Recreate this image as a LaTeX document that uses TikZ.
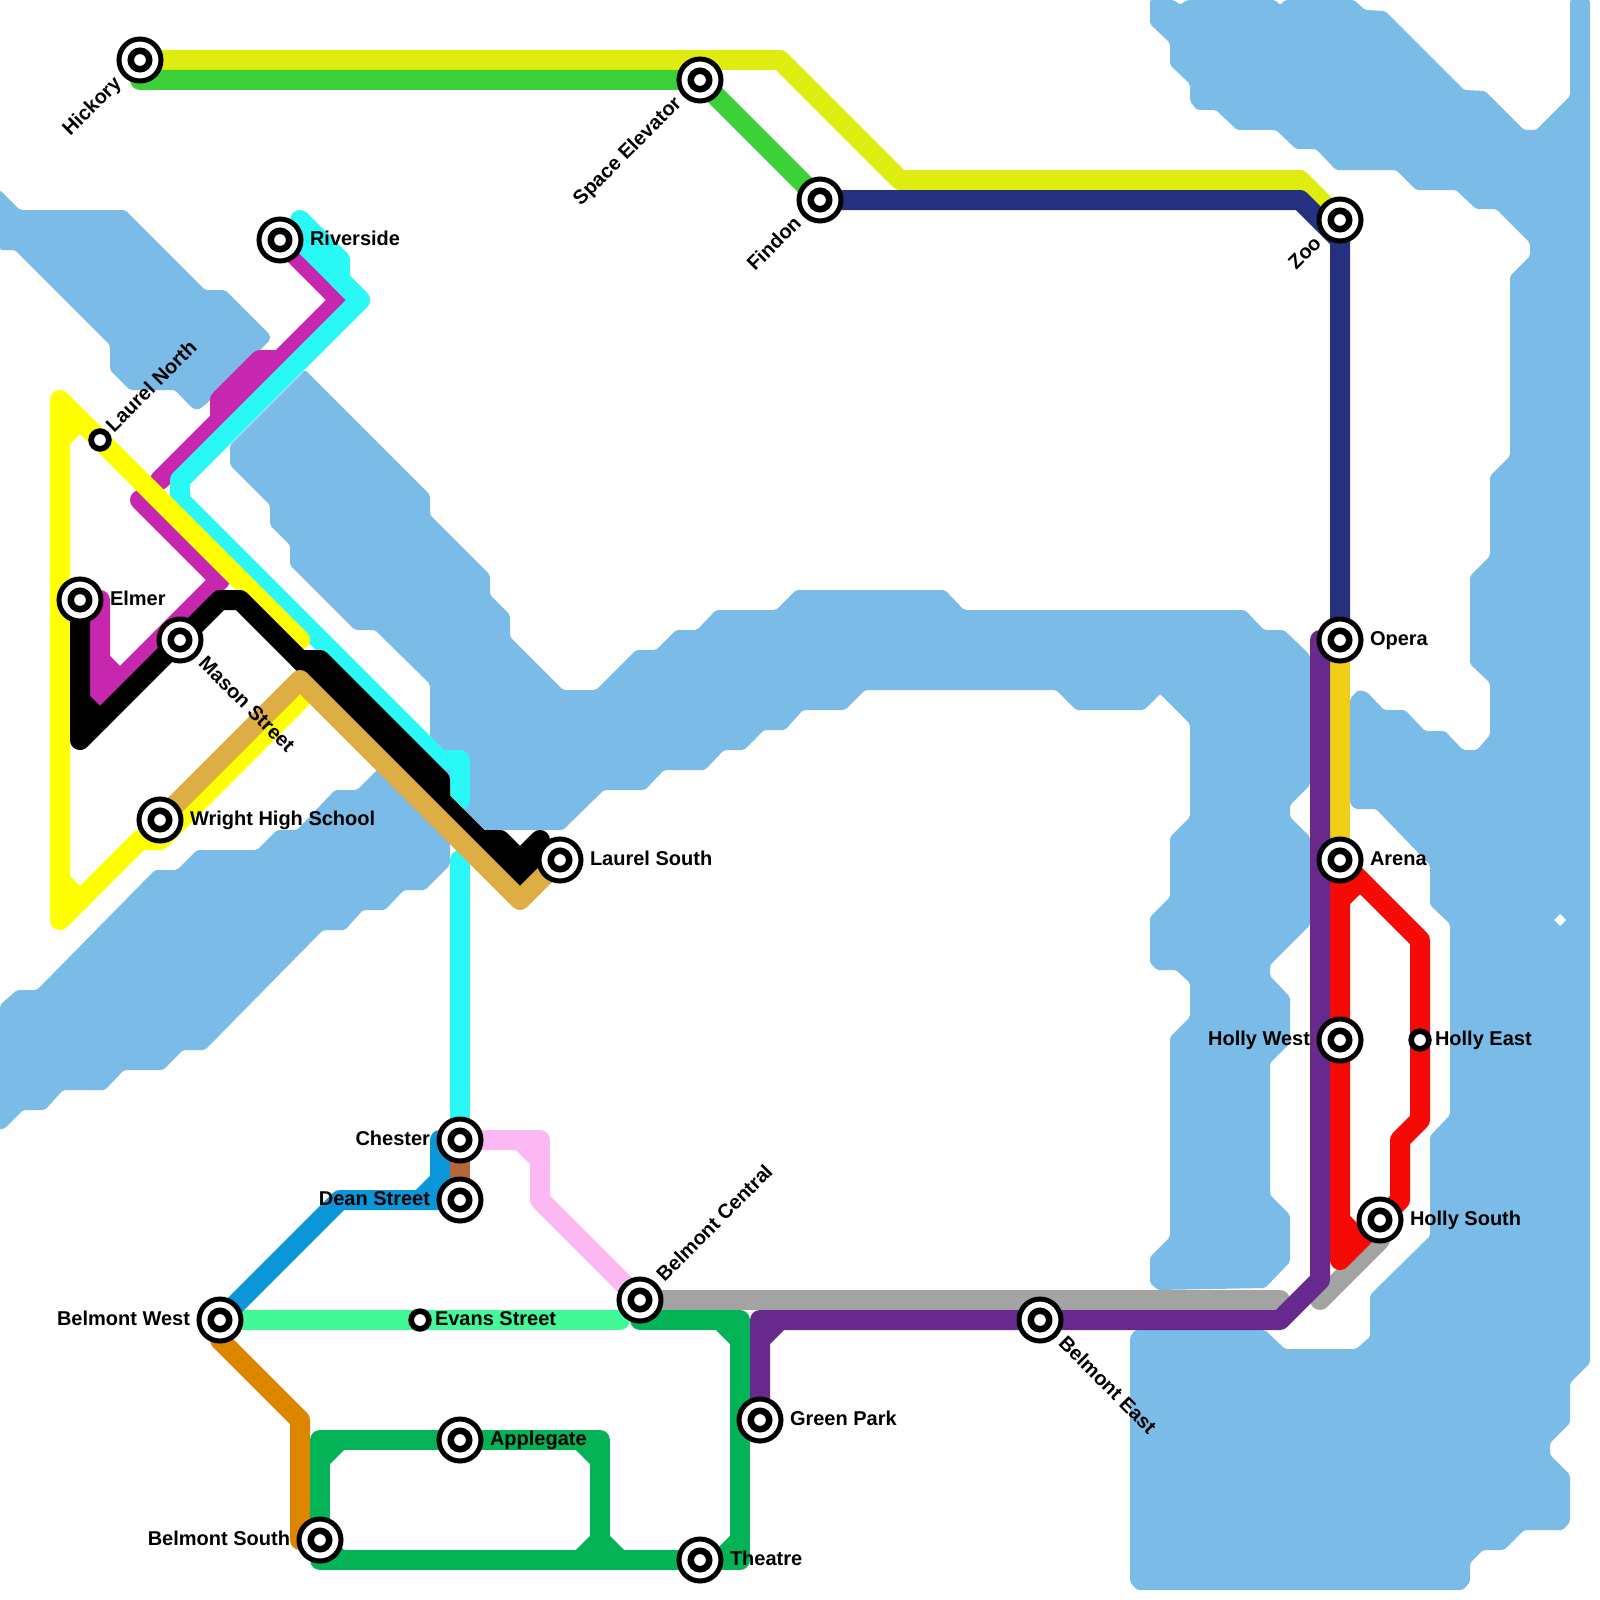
\documentclass[tikz,border=0pt]{standalone}
\usepackage{fontspec}
\setmainfont{Liberation Sans}
\pgfdeclarelayer{water}
\pgfdeclarelayer{lines}
\pgfsetlayers{water,lines,main}
\definecolor{cwater}{HTML}{7ABBE8}
\definecolor{clime}{HTML}{DFEC10}
\definecolor{cgreen}{HTML}{3BD038}
\definecolor{cnavy}{HTML}{253080}
\definecolor{cgoldy}{HTML}{F0CE15}
\definecolor{cred}{HTML}{F50A05}
\definecolor{cpurple}{HTML}{672A8C}
\definecolor{cmag}{HTML}{C627AE}
\definecolor{ccyan}{HTML}{2AF8F6}
\definecolor{cyel}{HTML}{FFFF00}
\definecolor{cgrey}{HTML}{A3A3A3}
\definecolor{corange}{HTML}{DE8500}
\definecolor{cteal}{HTML}{03B355}
\definecolor{cblue}{HTML}{0A96D8}
\definecolor{cbrown}{HTML}{B4683A}
\definecolor{cmint}{HTML}{43F897}
\definecolor{cpink}{HTML}{FCB8F3}
\definecolor{cgold}{HTML}{DEAD43}
\tikzset{
  ln/.style={line width=10pt,line cap=round,line join=round},
  wat/.style={fill=cwater,draw=none,rounded corners=1pt},
  stnout/.style={circle,fill=white,draw=black,line width=2.5pt,minimum size=21pt,inner sep=0pt,outer sep=0pt},
  stnin/.style={circle,fill=white,draw=black,line width=3.25pt,minimum size=9.25pt,inner sep=0pt,outer sep=0pt},
  stnsm/.style={circle,fill=white,draw=black,line width=2.85pt,minimum size=8.85pt,inner sep=0pt,outer sep=0pt},
  lbl/.style={inner sep=0pt,outer sep=0pt,font=\fontsize{10}{12}\selectfont\bfseries,text=black}
}
\newcommand{\stn}[3]{\node[stnout] (#1) at (#2,#3) {}; \node[stnin] (#1-in) at (#2,#3) {};}
\newcommand{\stnS}[3]{\node[stnsm] (#1) at (#2,#3) {};}
\begin{document}
\begin{tikzpicture}[x=0.5pt,y=-0.5pt]
\useasboundingbox (0,0) rectangle (1600,1600);
% stations
\stn{hickory}{140}{60}
\stn{space}{700}{80}
\stn{findon}{820}{200}
\stn{zoo}{1340}{220}
\stn{opera}{1340}{640}
\stn{arena}{1340}{860}
\stn{hollyw}{1340}{1040}
\stnS{hollye}{1420}{1040}
\stn{hollys}{1380}{1220}
\stn{belmonte}{1040}{1320}
\stn{green}{760}{1420}
\stn{theatre}{700}{1560}
\stn{belmontc}{640}{1300}
\stn{belmontw}{220}{1320}
\stnS{evans}{420}{1320}
\stn{chester}{460}{1140}
\stn{dean}{460}{1200}
\stn{applegate}{460}{1440}
\stn{belmonts}{320}{1540}
\stn{wright}{160}{820}
\stn{mason}{180}{640}
\stn{elmer}{80}{600}
\stnS{laureln}{100}{440}
\stn{laurels}{560}{860}
\stn{riverside}{280}{240}
% labels
\node[lbl,anchor=base west] (t1) at (310,245) {Riverside};
\node[lbl,anchor=base west] (t2) at (110,605) {Elmer};
\node[lbl,anchor=base west] (t3) at (190,825) {Wright High School};
\node[lbl,anchor=base west] (t4) at (590,865) {Laurel South};
\node[lbl,anchor=base west] (t5) at (1370,645) {Opera};
\node[lbl,anchor=base west] (t6) at (1370,865) {Arena};
\node[lbl,anchor=base west] (t7) at (1435,1045) {Holly East};
\node[lbl,anchor=base west] (t8) at (1410,1225) {Holly South};
\node[lbl,anchor=base west] (t9) at (790,1425) {Green Park};
\node[lbl,anchor=base west] (t10) at (730,1565) {Theatre};
\node[lbl,anchor=base west] (t11) at (490,1445) {Applegate};
\node[lbl,anchor=base west] (t12) at (435,1325) {Evans Street};
\node[lbl,anchor=base east] (t13) at (430,1145) {Chester};
\node[lbl,anchor=base east] (t14) at (430,1205) {Dean Street};
\node[lbl,anchor=base east] (t15) at (190,1325) {Belmont West};
\node[lbl,anchor=base east] (t16) at (290,1545) {Belmont South};
\node[lbl,anchor=base east] (t17) at (1310,1045) {Holly West};
\node[lbl,anchor=base east,rotate=45] (t18) at (122.3,84.7) {Hickory};
\node[lbl,anchor=base east,rotate=45] (t19) at (682.3,104.7) {Space Elevator};
\node[lbl,anchor=base east,rotate=45] (t20) at (802.3,224.7) {Findon};
\node[lbl,anchor=base east,rotate=45] (t21) at (1322.3,244.7) {Zoo};
\node[lbl,anchor=base west,rotate=45] (t22) at (114,433) {Laurel North};
\node[lbl,anchor=base west,rotate=45] (t23) at (664.7,1282.3) {Belmont Central};
\node[lbl,anchor=base west,rotate=-45] (t24) at (197.7,664.7) {Mason Street};
\node[lbl,anchor=base west,rotate=-45] (t25) at (1057.7,1344.7) {Belmont East};
\begin{pgfonlayer}{water}
\fill[wat] (0,190)--(20,210)--(125,210)--(205,290)--(225,290)--(270,335)--(270,340)--(205,405)--(198,410)--(192,408)--(175,390)--(130,390)--(110,370)--(110,345)--(15,250)--(0,250)--cycle;
\fill[wat] (230,445)--(305,370)--(430,495)--(430,515)--(490,575)--(490,595)--(510,615)--(510,637)--(563,690)--(596,690)--(636,650)--(656,650)--(676,630)--(697,630)--(716,610)--(776,610)--(796,590)--(945,590)--(964,610)--(1245,610)--(1264,630)--(1284,630)--(1310,655)--(1310,785)--(1290,805)--(1290,817)--(1310,837)--(1310,925)--(1270,965)--(1270,976)--(1290,997)--(1290,1043)--(1270,1063)--(1270,1195)--(1290,1215)--(1290,1262)--(1265,1288)--(1158,1290)--(1150,1283)--(1150,1257)--(1170,1237)--(1170,1037)--(1190,1017)--(1190,983)--(1176,970)--(1157,970)--(1150,963)--(1150,917)--(1170,897)--(1170,837)--(1190,817)--(1190,724)--(1160,694)--(1144,710)--(1076,710)--(1056,690)--(865,690)--(845,710)--(803,710)--(785,730)--(764,730)--(744,750)--(724,750)--(705,770)--(664,770)--(645,790)--(604,790)--(563,830)--(484,830)--(470,820)--(450,810)--(450,865)--(425,890)--(404,890)--(385,910)--(363,910)--(345,930)--(323,930)--(205,1050)--(183,1050)--(163,1070)--(124,1070)--(105,1090)--(63,1090)--(45,1110)--(23,1110)--(5,1128)--(0,1130)--(0,1005)--(17,990)--(37,990)--(155,870)--(177,870)--(197,850)--(257,850)--(277,830)--(297,830)--(335,790)--(357,790)--(377,770)--(395,752)--(430,760)--(430,684)--(375,630)--(355,630)--(290,565)--(290,545)--(270,525)--(270,505)--(230,465)--cycle;
\fill[wat] (1150,0)--(1150,24)--(1170,43)--(1170,65)--(1190,84)--(1190,101)--(1197,110)--(1216,110)--(1237,130)--(1276,130)--(1296,149)--(1316,149)--(1336,170)--(1396,170)--(1416,190)--(1456,190)--(1476,209)--(1496,209)--(1530,243)--(1530,256)--(1510,276)--(1510,456)--(1490,476)--(1490,556)--(1470,576)--(1470,664)--(1490,683)--(1490,735)--(1477,750)--(1463,750)--(1445,731)--(1425,731)--(1405,710)--(1384,710)--(1367,692)--(1358,690)--(1350,699)--(1350,804)--(1355,809)--(1376,809)--(1430,865)--(1430,905)--(1450,924)--(1450,1115)--(1430,1136)--(1430,1236)--(1370,1295)--(1370,1337)--(1356,1349)--(1285,1349)--(1265,1330)--(1135,1330)--(1130,1337)--(1130,1582)--(1137,1590)--(1463,1590)--(1470,1582)--(1470,1563)--(1483,1550)--(1504,1550)--(1524,1530)--(1563,1530)--(1570,1522)--(1570,1475)--(1550,1455)--(1550,1443)--(1570,1423)--(1570,1383)--(1590,1363)--(1590,0)--(1570,0)--(1570,96)--(1536,130)--(1524,130)--(1485,91)--(1464,90)--(1385,11)--(1365,10)--(1354,0)--(1285,0)--(1280,5)--(1275,0)--(1187,0)--(1180,5)--(1174,0)--cycle;
\fill[white] (1554,920)--(1560,914)--(1566,920)--(1560,926)--cycle;
\end{pgfonlayer}
\begin{pgfonlayer}{lines}
% north
\draw[ln,clime] (hickory.center)--(780,60)--(900,180)--(1300,180)--(zoo.center);
\draw[ln,cgreen] (140,80)--(space.center)--(findon.center);
\draw[ln,cnavy] (findon.center)--(1300,200)--(1340,240)--(opera.center);
\draw[ln,cgoldy] (opera.center)--(arena.center);
% west
\draw[ln,cmag] (riverside.center)--(340,300)--(160,480);
\draw[ln,cmag] (280,360)--(260,360)--(220,400)--(220,420);
\draw[ln,cmag] (140,500)--(220,580)--(100,700)--(100,600);
\draw[ln,cmag] (100,660)--(120,680);
\draw[ln,ccyan] (300,220)--(340,260)--(340,280)--(360,300)--(180,480)--(180,500)--(440,760)--(460,760)--(460,800);
\draw[ln,ccyan] (290,230)--(360,300);
\draw[ln,ccyan] (460,860)--(chester.center);
\draw[ln,cyel] (300,640)--(60,400)--(60,920)--(140,840)--(160,840)--(300,700);
\draw[ln,cyel] (60,440)--(80,420);
\draw[ln,cyel] (60,880)--(80,900);
\draw[ln,black] (elmer.center)--(80,740)--(220,600)--(240,600)--(300,660)--(520,880)--(540,860);
\draw[ln,black] (80,700)--(100,720);
\draw[ln,black] (300,660)--(320,660)--(440,780)--(440,800)--(480,840)--(500,840)--(520,860)--(540,840);
\draw[ln,cgold] (wright.center)--(300,680)--(520,900)--(laurels.center);
% east
\draw[ln,cgrey] (belmontc.center)--(1280,1300);
\draw[ln,cgrey] (1320,1300)--(1380,1240);
\draw[ln,cred] (arena.center)--(1420,940)--(hollye.center)--(1420,1120)--(1400,1140)--(1400,1200)--(hollys.center);
\draw[ln,cred] (arena.center)--(hollyw.center)--(1340,1260)--(hollys.center);
\draw[ln,cred] (1340,900)--(1360,880);
\draw[ln,cred] (1340,1220)--(1360,1240);
\draw[ln,cpurple] (1320,640)--(1320,1280)--(1280,1320)--(belmonte.center)--(760,1320)--(green.center);
\draw[ln,cpurple] (760,1340)--(780,1320);
% south
\draw[ln,cmint] (belmontw.center)--(evans.center)--(620,1320);
\draw[ln,cblue] (dean.center)--(340,1200)--(belmontw.center);
\draw[ln,cblue] (chester.center)--(440,1140)--(440,1180)--(420,1200);
\draw[ln,cbrown] (chester.center)--(dean.center);
\draw[ln,cpink] (chester.center)--(540,1140)--(540,1200)--(belmontc.center);
\draw[ln,cpink] (520,1140)--(540,1160);
\draw[ln,corange] (belmontw.center)--(220,1340)--(300,1420)--(300,1540)--(belmonts.center);
\draw[ln,cteal] (640,1320)--(740,1320)--(740,1560)--(theatre.center)--(320,1560)--(belmonts.center)--(320,1440)--(applegate.center)--(600,1440)--(600,1560);
\draw[ln,cteal] (720,1320)--(740,1340);
\draw[ln,cteal] (740,1540)--(720,1560);
\draw[ln,cteal] (320,1460)--(340,1440);
\draw[ln,cteal] (580,1440)--(600,1460);
\draw[ln,cteal] (580,1560)--(600,1540)--(620,1560);
\draw[ln,cteal] (320,1540)--(340,1560);
\end{pgfonlayer}
\end{tikzpicture}
\end{document}
